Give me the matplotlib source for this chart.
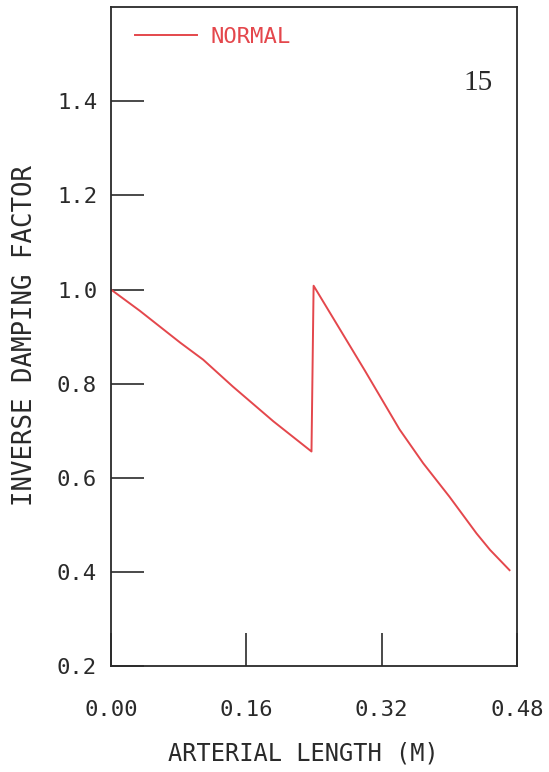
import matplotlib
matplotlib.use("Agg")
from matplotlib import pyplot as plt

# inverse damping factor along the artery, normal case
length_m = [0.0, 0.034, 0.082, 0.109, 0.144, 0.192, 0.237, 0.2395,
            0.300, 0.341, 0.369, 0.400, 0.432, 0.448, 0.471]
inv_damping = [1.0, 0.955, 0.887, 0.851, 0.794, 0.72, 0.656, 1.008,
               0.828, 0.703, 0.631, 0.560, 0.482, 0.447, 0.404]

x_ticks = [0.0, 0.16, 0.32, 0.48]
x_labels = ["0.00", "0.16", "0.32", "0.48"]
y_ticks = [0.2, 0.4, 0.6, 0.8, 1.0, 1.2, 1.4]
y_labels = ["0.2", "0.4", "0.6", "0.8", "1.0", "1.2", "1.4"]

red = '#e4474c'
ink = '#2a2a2a'
mono = 'DejaVu Sans Mono'

fig = plt.figure(figsize=(5.49, 7.72), dpi=100)
ax = fig.add_axes([0.202, 0.137, 0.740, 0.854])

ax.plot(length_m, inv_damping, color=red, lw=1.4, label='NORMAL')

ax.set_xlim(0, 0.48)
ax.set_ylim(0.2, 1.6)
ax.set_xticks(x_ticks)
ax.set_xticklabels(x_labels, fontfamily=mono, fontsize=16, color=ink)
ax.set_yticks(y_ticks)
ax.set_yticklabels(y_labels, fontfamily=mono, fontsize=16, color=ink)
ax.tick_params(axis='x', direction='in', length=24, width=1.2, pad=24, color=ink)
ax.tick_params(axis='y', direction='in', length=24, width=1.2, pad=10, color=ink)
for s in ax.spines.values():
    s.set_linewidth(1.3)
    s.set_color(ink)

ax.set_xlabel('ARTERIAL LENGTH (M)', fontfamily=mono, fontsize=17, color=ink, va='center')
ax.xaxis.set_label_coords(0.475, -0.132)
ax.set_ylabel('INVERSE DAMPING FACTOR', fontfamily=mono, fontsize=18.5, color=ink, va='center')
ax.yaxis.set_label_coords(-0.212, 0.502)

leg = ax.legend(loc='upper left', bbox_to_anchor=(0.059, 0.97), frameon=False,
                borderaxespad=0, borderpad=0, handlelength=2.8, handletextpad=0.6,
                prop={'family': mono, 'size': 16})
for t in leg.get_texts():
    t.set_color(red)

ax.text(0.903, 0.885, '15', transform=ax.transAxes, ha='center', va='center',
        fontfamily='Liberation Serif', fontsize=21, color=ink)

plt.savefig('out.png', dpi=100)
